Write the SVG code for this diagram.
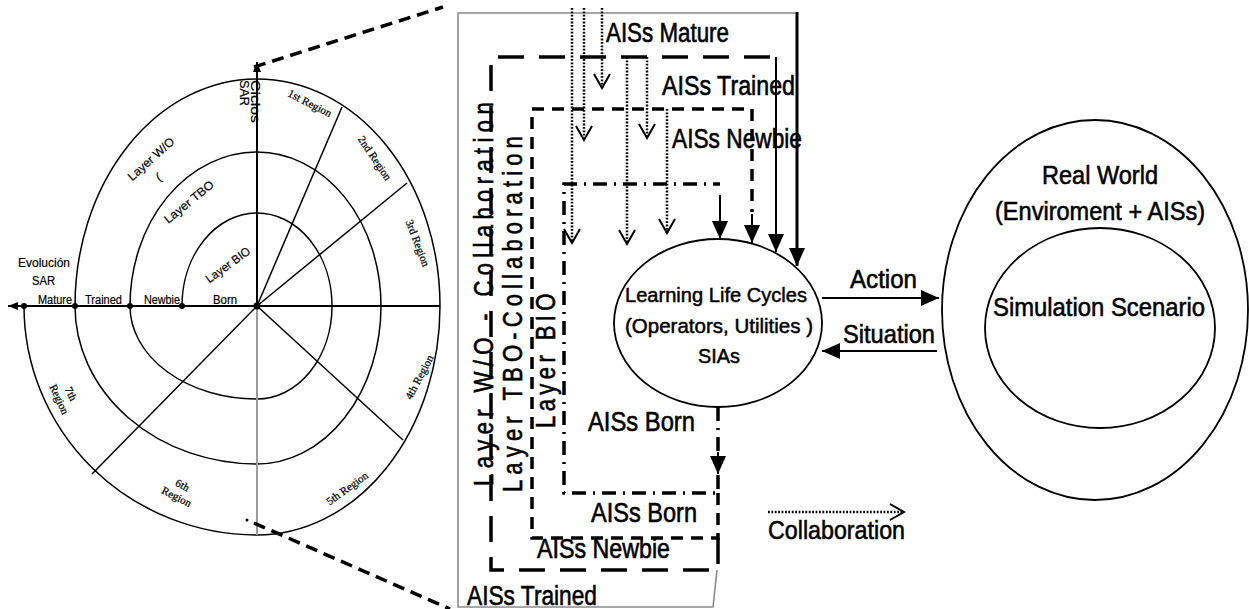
<svg xmlns="http://www.w3.org/2000/svg" width="1249" height="609" viewBox="0 0 1249 609">
  <style>
    .ln { fill: none; stroke: #000; stroke-width: 1.5; }
    .axis { fill: none; stroke: #000; stroke-width: 2; }
    .zoomln { fill: none; stroke: #000; stroke-width: 3.5; stroke-dasharray: 12 7; }
    .reg { font-family: "Liberation Serif", "Times New Roman", serif; font-size: 11px; fill: #000; stroke: #000; stroke-width: 0.25; }
    .sm { font-family: "Liberation Sans", Arial, sans-serif; font-size: 12px; fill: #000; stroke: #000; stroke-width: 0.2; }
    .lb { font-family: "Liberation Sans", Arial, sans-serif; font-size: 27px; fill: #000; stroke: #000; stroke-width: 0.6; }
    .lbs { font-family: "Liberation Sans", Arial, sans-serif; font-size: 21px; fill: #000; stroke: #000; stroke-width: 0.5; }
    .lbr { font-family: "Liberation Sans", Arial, sans-serif; font-size: 25px; fill: #000; stroke: #000; stroke-width: 0.55; }
    .outer { fill: none; stroke: #8a8a8a; stroke-width: 1.6; }
    .ld { fill: none; stroke: #000; stroke-width: 3.5; stroke-dasharray: 26 15; }
    .sd { fill: none; stroke: #000; stroke-width: 3.5; stroke-dasharray: 12 8; }
    .dd { fill: none; stroke: #000; stroke-width: 3.5; stroke-dasharray: 14 7 2 7; }
    .dot { fill: none; stroke: #000; stroke-width: 2.5; stroke-dasharray: 1.8 1.6; }
    .sol { fill: none; stroke: #000; stroke-width: 2; }
    .solb { fill: none; stroke: #000; stroke-width: 3; }
    .shape { fill: none; stroke: #000; stroke-width: 1.8; }
  </style>
  <defs>
    <marker id="head" viewBox="0 0 18 16" refX="18" refY="8" markerWidth="18" markerHeight="16" markerUnits="userSpaceOnUse" orient="auto">
      <path d="M0,0 L18,8 L0,16 z" fill="#000"/>
    </marker>
    <marker id="vee" viewBox="-2 -2 18 20" refX="14" refY="8" markerWidth="18" markerHeight="20" markerUnits="userSpaceOnUse" orient="auto">
      <path d="M0,0 L14,8 L0,16" fill="none" stroke="#000" stroke-width="2"/>
    </marker>
    <marker id="small" viewBox="0 0 10 8" refX="10" refY="4" markerWidth="10" markerHeight="8" markerUnits="userSpaceOnUse" orient="auto">
      <path d="M0,0 L10,4 L0,8 z" fill="#000"/>
    </marker>
  </defs>

  <!-- evolution spiral -->
  <g id="spiral">
    <path class="ln" d="M182 306 A75 93 0 0 1 257 213 A75 93 0 0 1 332 306 A75 93 0 0 1 257 399 A127 93 0 0 1 130 306 A127 154 0 0 1 257 152 A124 154 0 0 1 381 306 A124 158 0 0 1 257 464 A182 158 0 0 1 75 306 A182 227 0 0 1 257 79 A183 227 0 0 1 440 306 A183 229 0 0 1 257 535 A233 229 0 0 1 24 306"/>
    <!-- region boundaries -->
    <line class="ln" x1="257" y1="306" x2="342" y2="107"/>
    <line class="ln" x1="257" y1="306" x2="407" y2="183"/>
    <line class="ln" x1="257" y1="306" x2="403" y2="440"/>
    <line class="ln" x1="257" y1="306" x2="92" y2="474"/>
    <line x1="257" y1="306" x2="257" y2="535" stroke="#9a9a9a" stroke-width="2"/>
    <line class="axis" x1="257" y1="306" x2="440" y2="306"/>
    <line class="axis" x1="257" y1="306" x2="8" y2="306" marker-end="url(#small)"/>
    <line class="axis" x1="257" y1="306" x2="257" y2="62" marker-end="url(#small)"/>
    <circle cx="24" cy="306" r="3"/>
    <circle cx="75" cy="306" r="3"/>
    <circle cx="130" cy="306" r="3"/>
    <circle cx="182" cy="306" r="3"/>
    <circle cx="257" cy="306" r="3.5"/>
    <circle cx="247" cy="520" r="1.5"/>

    <text class="sm" x="18" y="267" textLength="52" lengthAdjust="spacingAndGlyphs">Evolución</text>
    <text class="sm" x="32" y="285" textLength="23" lengthAdjust="spacingAndGlyphs">SAR</text>
    <text class="sm" x="38" y="304" textLength="34" lengthAdjust="spacingAndGlyphs">Mature</text>
    <text class="sm" x="85" y="304" textLength="37" lengthAdjust="spacingAndGlyphs">Trained</text>
    <text class="sm" x="144" y="304" textLength="36" lengthAdjust="spacingAndGlyphs">Newbie</text>
    <text class="sm" x="213" y="304" textLength="24" lengthAdjust="spacingAndGlyphs">Born</text>

    <g transform="translate(251 80) rotate(90)">
      <text class="sm" x="0" y="0" textLength="43" lengthAdjust="spacingAndGlyphs">Ciclos</text>
      <text class="sm" x="0" y="11" textLength="26" lengthAdjust="spacingAndGlyphs">SAR</text>
    </g>

    <text class="sm" transform="translate(151 159) rotate(-42)" text-anchor="middle" y="4" textLength="58" lengthAdjust="spacingAndGlyphs">Layer W/O</text>
    <text class="sm" transform="translate(159 178) rotate(-30)" text-anchor="middle" y="3" font-size="8">(</text>
    <text class="sm" transform="translate(189 202) rotate(-39)" text-anchor="middle" y="4" textLength="60" lengthAdjust="spacingAndGlyphs">Layer TBO</text>
    <text class="sm" transform="translate(228 265) rotate(-36)" text-anchor="middle" y="4" textLength="52" lengthAdjust="spacingAndGlyphs">Layer BIO</text>

    <text class="reg" transform="translate(310 103) rotate(27)" text-anchor="middle" y="4">1st Region</text>
    <text class="reg" transform="translate(375 158) rotate(56)" text-anchor="middle" y="4">2nd Region</text>
    <text class="reg" transform="translate(418 243) rotate(69)" text-anchor="middle" y="4">3rd Region</text>
    <text class="reg" transform="translate(419 377) rotate(-62)" text-anchor="middle" y="4">4th Region</text>
    <text class="reg" transform="translate(347 488) rotate(-36)" text-anchor="middle" y="4">5th Region</text>
    <g transform="translate(179 492) rotate(27)">
      <text class="reg" x="0" y="-4" text-anchor="middle">6th</text>
      <text class="reg" x="0" y="9" text-anchor="middle">Region</text>
    </g>
    <g transform="translate(64 397) rotate(65)">
      <text class="reg" x="0" y="-4" text-anchor="middle">7th</text>
      <text class="reg" x="0" y="9" text-anchor="middle">Region</text>
    </g>
  </g>

  <!-- zoom guide lines -->
  <g id="zoom-guides">
    <line class="zoomln" x1="254" y1="67" x2="443" y2="7"/>
    <line class="zoomln" x1="254" y1="523" x2="450" y2="609"/>
  </g>

  <!-- nested layer loops and arrows -->
  <g id="connectors">
    <!-- AISs Mature loop -->
    <path class="outer" d="M717 570 L713 607 L458 607 L458 13 L797 13"/>
    <line class="solb" x1="797" y1="12" x2="797" y2="266" marker-end="url(#head)"/>
    <!-- Layer W/O loop -->
    <path class="ld" d="M718 538 L718 570 L491 570 L491 57 L776 57"/>
    <line class="sol" x1="776" y1="57" x2="776" y2="252" marker-end="url(#head)"/>
    <!-- Layer TBO loop -->
    <path class="sd" d="M718 493 L718 538 L532 538 L532 109 L752 109 L752 212"/>
    <line class="sol" x1="752" y1="214" x2="752" y2="243" marker-end="url(#head)"/>
    <!-- Layer BIO loop -->
    <path class="dd" d="M718 475 L718 493 L564 493 L564 184 L720 184"/>
    <line class="sol" x1="720" y1="195" x2="720" y2="239" marker-end="url(#head)"/>
    <!-- AISs Born out of the cycle -->
    <path class="dd" d="M718 407 L718 452"/>
    <line class="sol" x1="718" y1="452" x2="718" y2="474" marker-end="url(#head)"/>

    <!-- collaboration arrows -->
    <line class="dot" x1="572" y1="8" x2="572" y2="243" marker-end="url(#vee)"/>
    <line class="dot" x1="584" y1="8" x2="584" y2="140" marker-end="url(#vee)"/>
    <line class="dot" x1="602" y1="8" x2="602" y2="88" marker-end="url(#vee)"/>
    <line class="dot" x1="627" y1="57" x2="627" y2="244" marker-end="url(#vee)"/>
    <line class="dot" x1="647" y1="57" x2="647" y2="138" marker-end="url(#vee)"/>
    <line class="dot" x1="667" y1="109" x2="667" y2="233" marker-end="url(#vee)"/>

    <!-- action / situation -->
    <line class="sol" x1="822" y1="298" x2="939" y2="298" marker-end="url(#head)"/>
    <line class="sol" x1="937" y1="351" x2="822" y2="351" marker-end="url(#head)"/>

    <!-- legend -->
    <line class="dot" x1="768" y1="512" x2="904" y2="512" marker-end="url(#vee)"/>
  </g>

  <g id="layer-labels">
    <text class="lb" transform="translate(493 486) rotate(-90) scale(0.82 1)" x="0" y="0" textLength="468" lengthAdjust="spacing">Layer W/O - Collaboration</text>
    <text class="lb" transform="translate(522 492) rotate(-90) scale(0.82 1)" x="0" y="0" textLength="434" lengthAdjust="spacing">Layer TBO-Collaboration</text>
    <text class="lb" transform="translate(555 428) rotate(-90) scale(0.82 1)" x="0" y="0" textLength="164" lengthAdjust="spacing">Layer BIO</text>

    <text class="lb" x="606" y="42" textLength="123" lengthAdjust="spacingAndGlyphs">AISs Mature</text>
    <text class="lb" x="662" y="95" textLength="133" lengthAdjust="spacingAndGlyphs">AISs Trained</text>
    <text class="lb" x="672" y="148" textLength="130" lengthAdjust="spacingAndGlyphs">AISs Newbie</text>
    <text class="lb" x="588" y="431" textLength="107" lengthAdjust="spacingAndGlyphs">AISs Born</text>
    <text class="lb" x="591" y="522" textLength="106" lengthAdjust="spacingAndGlyphs">AISs Born</text>
    <text class="lb" x="537" y="558" textLength="133" lengthAdjust="spacingAndGlyphs">AISs Newbie</text>
    <text class="lb" x="467" y="605" textLength="130" lengthAdjust="spacingAndGlyphs">AISs Trained</text>
    <text class="lbr" x="850" y="288" textLength="67" lengthAdjust="spacingAndGlyphs">Action</text>
    <text class="lbr" x="843" y="343" textLength="92" lengthAdjust="spacingAndGlyphs">Situation</text>
    <text class="lbr" x="768" y="539" textLength="137" lengthAdjust="spacingAndGlyphs">Collaboration</text>
  </g>

  <g id="learning-cycles">
    <ellipse class="shape" cx="718" cy="323" rx="104" ry="84"/>
    <text class="lbs" x="625" y="302" textLength="182" lengthAdjust="spacingAndGlyphs">Learning Life Cycles</text>
    <text class="lbs" x="625" y="333" textLength="188" lengthAdjust="spacingAndGlyphs">(Operators, Utilities )</text>
    <text class="lbs" x="698" y="363" textLength="42" lengthAdjust="spacingAndGlyphs">SIAs</text>
  </g>

  <g id="real-world">
    <ellipse class="shape" cx="1095" cy="310" rx="153" ry="190"/>
    <text class="lbr" x="1042" y="184" textLength="116" lengthAdjust="spacingAndGlyphs">Real World</text>
    <text class="lbr" x="995" y="220" textLength="210" lengthAdjust="spacingAndGlyphs">(Enviroment + AISs)</text>
  </g>

  <g id="simulation-scenario">
    <ellipse class="shape" cx="1100" cy="328" rx="115" ry="100"/>
    <text class="lbr" x="993" y="316" textLength="212" lengthAdjust="spacingAndGlyphs">Simulation Scenario</text>
  </g>
</svg>
